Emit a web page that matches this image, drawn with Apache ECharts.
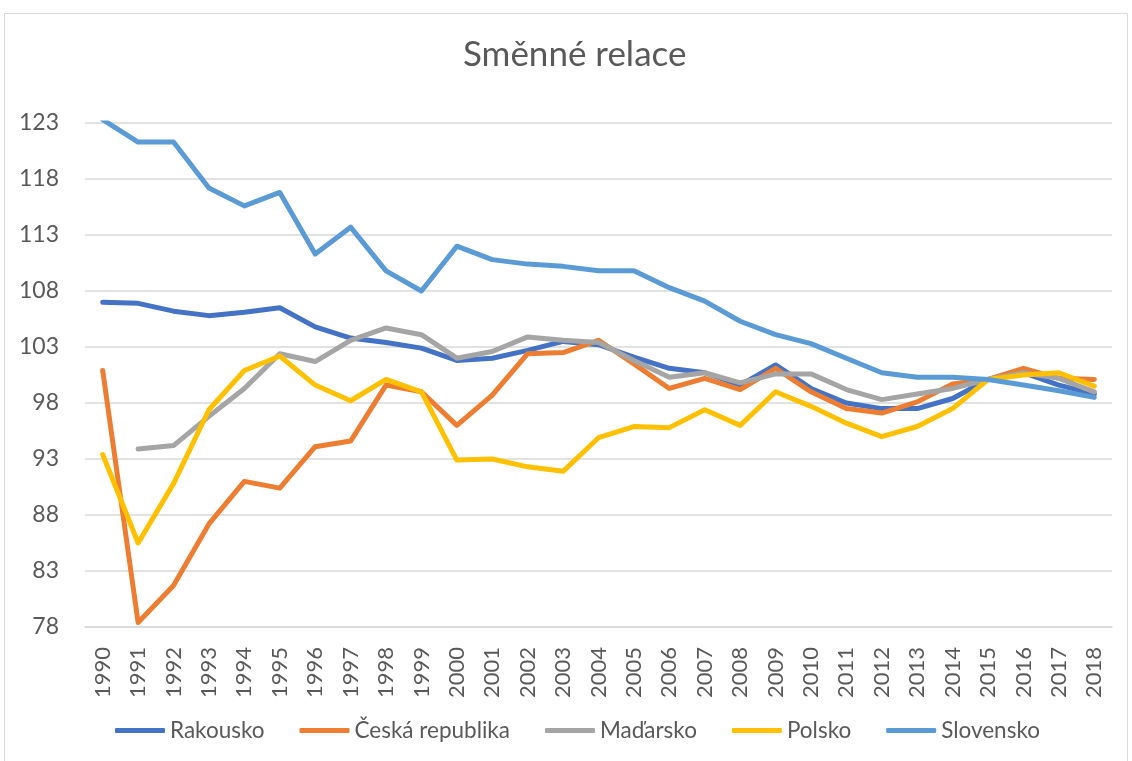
<!DOCTYPE html>
<html>
<head>
<meta charset="utf-8">
<script src="https://cdn.jsdelivr.net/npm/echarts@6/dist/echarts.min.js"></script>
<style>
html,body{margin:0;padding:0;background:#fff;}
#chart{width:1132px;height:761px;}
</style>
</head>
<body>
<div id="chart"></div>
<script>
const years = ['1990','1991','1992','1993','1994','1995','1996','1997','1998','1999','2000','2001','2002','2003','2004','2005','2006','2007','2008','2009','2010','2011','2012','2013','2014','2015','2016','2017','2018'];
const rakousko = [107.0,106.9,106.2,105.8,106.1,106.5,104.8,103.8,103.4,102.9,101.8,102.0,102.7,103.5,103.2,102.1,101.1,100.7,99.6,101.4,99.3,98.0,97.5,97.5,98.4,100.1,100.7,99.6,98.8];
const ceskaRepublika = [100.9,78.4,81.7,87.2,91.0,90.4,94.1,94.6,99.6,99.0,96.0,98.7,102.4,102.5,103.6,101.5,99.3,100.2,99.2,101.1,99.0,97.5,97.1,98.1,99.7,100.1,101.1,100.2,100.1];
const madarsko = [null,93.9,94.2,96.8,99.3,102.4,101.7,103.6,104.7,104.1,102.0,102.6,103.9,103.6,103.4,101.8,100.3,100.7,99.8,100.6,100.6,99.2,98.3,98.8,99.3,100.1,100.7,100.2,99.0];
const polsko = [93.4,85.5,90.8,97.4,100.9,102.2,99.6,98.2,100.1,99.0,92.9,93.0,92.3,91.9,94.9,95.9,95.8,97.4,96.0,99.0,97.7,96.2,95.0,95.9,97.5,100.1,100.5,100.7,99.5];
const slovensko = [123.3,121.3,121.3,117.2,115.6,116.8,111.3,113.7,109.8,108.0,112.0,110.8,110.4,110.2,109.8,109.8,108.3,107.1,105.3,104.1,103.3,102.0,100.7,100.3,100.3,100.1,99.6,99.1,98.5];
const seriesNames = ['Rakousko','Česká republika','Maďarsko','Polsko','Slovensko'];
const yMin = 78, yMax = 123, yStep = 5;

const colors = ['#4472C4','#ED7D31','#A5A5A5','#FFC000','#5B9BD5'];
const dataSets = [rakousko, ceskaRepublika, madarsko, polsko, slovensko];
const font = 'Lato, "Open Sans", sans-serif';

const chart = echarts.init(document.getElementById('chart'));
chart.setOption({
  animation: false,
  color: colors,
  graphic: [{
    type: 'rect',
    shape: {x: 4.5, y: 13.5, width: 1123, height: 800},
    style: {fill: 'none', stroke: '#D9D9D9', lineWidth: 1},
    silent: true
  }],
  title: {
    text: 'Směnné relace',
    left: 463,
    top: 37,
    padding: 0,
    textStyle: {fontFamily: font, fontSize: 35, fontWeight: 'normal', color: '#595959'}
  },
  legend: {
    bottom: 14,
    left: 110,
    icon: 'roundRect',
    itemWidth: 50,
    itemHeight: 5,
    itemGap: 35,
    textStyle: {fontFamily: font, fontSize: 22.5, color: '#595959', padding: [0,0,0,0]},
    data: seriesNames
  },
  grid: {left: 85, right: 20, top: 123, bottom: 134, containLabel: false},
  xAxis: {
    type: 'category',
    data: years,
    boundaryGap: true,
    axisLine: {show: true, lineStyle: {color: '#D9D9D9', width: 1.5}},
    axisTick: {show: false},
    axisLabel: {rotate: 90, margin: 20, fontFamily: font, fontSize: 22, color: '#595959', interval: 0}
  },
  yAxis: {
    type: 'value',
    min: yMin,
    max: yMax,
    interval: yStep,
    axisLine: {show: false},
    axisTick: {show: false},
    splitLine: {lineStyle: {color: '#D9D9D9', width: 1.5}},
    axisLabel: {margin: 26, fontFamily: font, fontSize: 23, color: '#595959'}
  },
  series: seriesNames.map((n, i) => ({
    name: n,
    type: 'line',
    data: dataSets[i],
    showSymbol: false,
    symbol: 'none',
    lineStyle: {width: 5, color: colors[i], cap: 'round', join: 'round'},
    itemStyle: {color: colors[i]}
  }))
});
</script>
</body>
</html>
